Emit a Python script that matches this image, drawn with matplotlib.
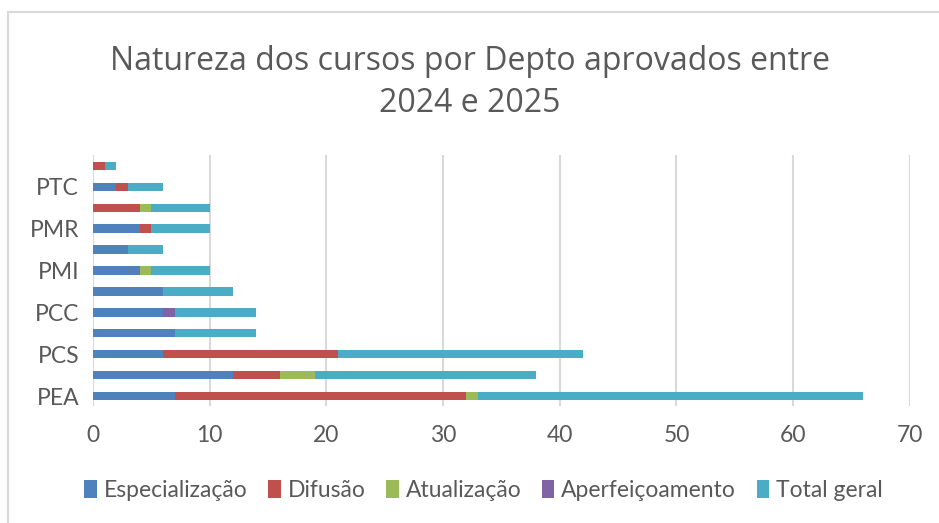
import matplotlib.pyplot as plt
import numpy as np
from matplotlib.patches import Rectangle

# departamentos (de baixo para cima); so um a cada dois aparece no eixo
deptos = ["PEA", "PME", "PCS", "PEF", "PCC", "PHA",
          "PMI", "PMT", "PMR", "PQI", "PTC", "PTR"]
especializacao = [7, 12, 6, 7, 6, 6, 4, 3, 4, 0, 2, 0]
difusao = [25, 4, 15, 0, 0, 0, 0, 0, 1, 4, 1, 1]
atualizacao = [1, 3, 0, 0, 0, 0, 1, 0, 0, 1, 0, 0]
aperfeicoamento = [0, 0, 0, 0, 1, 0, 0, 0, 0, 0, 0, 0]
total_geral = [33, 19, 21, 7, 7, 6, 5, 3, 5, 5, 3, 1]

series = [("Especialização", especializacao, "#4f81bd"),
          ("Difusão", difusao, "#c0504d"),
          ("Atualização", atualizacao, "#9bbb59"),
          ("Aperfeiçoamento", aperfeicoamento, "#8064a2"),
          ("Total geral", total_geral, "#4bacc6")]

fig = plt.figure(figsize=(9.39, 5.23), dpi=100)
ax = fig.add_axes([0.099, 0.2228, 0.870, 0.480])

y = np.arange(len(deptos))
left = np.zeros(len(deptos))
for nome, vals, cor in series:
    vals = np.array(vals, dtype=float)
    ax.barh(y, vals, left=left, height=0.4, color=cor, label=nome, zorder=3)
    left += vals

ax.set_xlim(0, 70)
ax.set_ylim(-0.5, len(deptos) - 0.5)
ax.set_xticks(range(0, 71, 10))
ax.set_yticks(y[::2])
ax.set_yticklabels(deptos[::2])
ax.tick_params(length=0, labelsize=16.5, labelcolor="#595959")
ax.tick_params(axis="x", pad=13)
ax.tick_params(axis="y", pad=10)
for lab in ax.get_xticklabels() + ax.get_yticklabels():
    lab.set_family("Lato")
ax.grid(axis="x", color="#d9d9d9", linewidth=1.5, zorder=0)
for s in ax.spines.values():
    s.set_visible(False)

fig.text(0.5, 0.842, "Natureza dos cursos por Depto aprovados entre\n2024 e 2025",
         ha="center", va="center", fontsize=23, color="#595959",
         family="Open Sans", linespacing=1.35)

leg = fig.legend(loc="center", bbox_to_anchor=(0.515, 0.063), ncol=5, frameon=False,
                 prop={"family": "Lato", "size": 16.5}, handlelength=0.55,
                 handleheight=0.85, handletextpad=0.3, columnspacing=0.9)
for t in leg.get_texts():
    t.set_color("#595959")

# borda do grafico
fig.patches.append(Rectangle((7.5 / 939, -0.05), 1.0, 1 - 11.5 / 523 + 0.05,
                             transform=fig.transFigure, fill=False,
                             edgecolor="#d9d9d9", linewidth=1.5))

plt.savefig("out.png")
